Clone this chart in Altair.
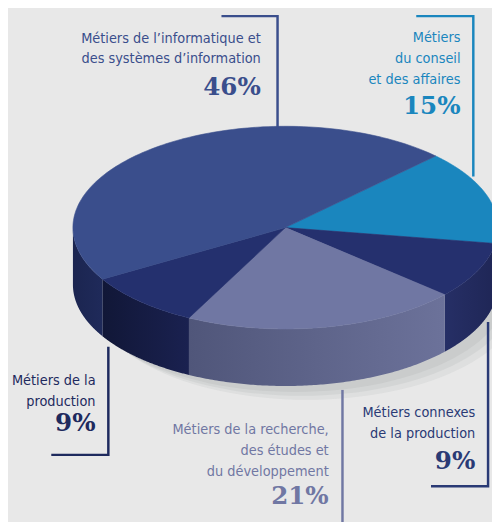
import math
import altair as alt
import pandas as pd

# ---- data ----
categories = [
    "Métiers du conseil et des affaires",
    "Métiers connexes de la production",
    "Métiers de la recherche, des études et du développement",
    "Métiers de la production",
    "Métiers de l'informatique et des systèmes d'information",
]
shares = [15, 9, 21, 9, 46]
top_colors = ["#1A86BE", "#25306E", "#7077A3", "#24306E", "#3A4E8C"]
side_dark = ["#156A96", "#262F66", "#50567A", "#111737", "#1B2550"]
side_light = ["#12628C", "#1F2656", "#6C729A", "#1A2150", "#1F2A5A"]

# ---- geometry of the 3D pie (layout) ----
CX, CY, RX, RY, DEPTH = 290.0, 227.0, 216.0, 103.0, 58.0
START = 45.0  # degrees, math angle; slices go clockwise
N = 120


def pt(theta, dy=0.0):
    t = math.radians(theta)
    return CX + RX * math.cos(t), CY - RY * math.sin(t) + dy


top_rows, side_polys = [], []
total = float(sum(shares))
a0 = START
for i, (cat, s) in enumerate(zip(categories, shares)):
    a1 = a0 - 360.0 * s / total
    pts = [(CX, CY)] + [pt(a0 + (a1 - a0) * k / N) for k in range(N + 1)]
    for j, (x, y) in enumerate(pts):
        top_rows.append({"slice": i, "cat": cat, "col": top_colors[i], "o": j, "x": x, "y": y})
    for kk in range(-2, 2):
        lo = max(a1, -180.0 - 360.0 * kk)
        hi = min(a0, -360.0 * kk)
        if lo < hi:
            edge = [hi + (lo - hi) * k / N for k in range(N + 1)]
            poly = [pt(t) for t in edge] + [pt(t, DEPTH) for t in reversed(edge)]
            side_polys.append((i, pd.DataFrame([{"o": j, "x": x, "y": y} for j, (x, y) in enumerate(poly)])))
    a0 = a1

top_df = pd.DataFrame(top_rows)

W, H = 492, 514
xs = alt.Scale(domain=[8, 8 + W])
ys = alt.Scale(domain=[8 + H, 8])
X = alt.X("x:Q", scale=xs, axis=None)
Y = alt.Y("y:Q", scale=ys, axis=None)

# soft shadow under the pie
layers = []
for dx, dy, op in [(22, 14, 0.25), (16, 10, 0.35), (10, 6, 0.45)]:
    srows = []
    for k in range(N + 1):
        x, y = pt(360.0 * k / N, DEPTH + dy)
        srows.append({"o": k, "x": x + dx, "y": y})
    layers.append(alt.Chart(pd.DataFrame(srows)).mark_line(
        interpolate="linear-closed", filled=True, fill="#BFC2C2", strokeWidth=0, opacity=op
    ).encode(x=X, y=Y, order="o:Q"))

for i, df in side_polys:
    grad = alt.Gradient(
        gradient="linear",
        stops=[alt.GradientStop(color=side_dark[i], offset=0), alt.GradientStop(color=side_light[i], offset=1)],
        x1=0, x2=1, y1=0, y2=0,
    )
    layers.append(alt.Chart(df).mark_line(
        interpolate="linear-closed", filled=True, fill=grad, strokeWidth=0
    ).encode(x=X, y=Y, order="o:Q"))

layers.append(alt.Chart(top_df).mark_line(interpolate="linear-closed", strokeWidth=0.6, filled=True).encode(
    x=X, y=Y, order="o:Q", detail="slice:N",
    fill=alt.Fill("col:N", scale=None),
    stroke=alt.Stroke("col:N", scale=None),
))


def line(pts, color, width=2.5):
    df = pd.DataFrame([{"o": j, "x": x, "y": y} for j, (x, y) in enumerate(pts)])
    return alt.Chart(df).mark_line(color=color, strokeWidth=width).encode(x=X, y=Y, order="o:Q")


c_info, c_cons, c_prod, c_rech, c_conn = "#3A4E8C", "#1A86BE", "#1E2A5E", "#7077A3", "#2A3A75"
layers += [
    line([(225, 12), (282, 12), (282, 126)], c_info),
    line([(423, 12), (481, 12), (481, 175)], c_cons),
    line([(110, 348), (110, 458), (52, 458)], c_prod),
    line([(348, 392), (348, 530)], c_rech),
    line([(496, 323), (496, 490), (438, 490)], c_conn),
]

SANS = "'Liberation Sans Narrow', 'Arial Narrow', 'DejaVu Sans Condensed', 'Liberation Sans', sans-serif"
SERIF = "'DejaVu Serif', serif"


def text(lines_, xr, y_first, color, pct, y_pct, step=21, size=14.6):
    out = []
    for k, t in enumerate(lines_):
        out.append(alt.Chart(pd.DataFrame({"t": [t]})).mark_text(
            align="right", baseline="alphabetic", font=SANS, fontSize=size, color=color
        ).encode(x=alt.value(xr - 8), y=alt.value(y_first + k * step - 8), text="t:N"))
    out.append(alt.Chart(pd.DataFrame({"t": [pct]})).mark_text(
        align="right", baseline="alphabetic", font=SERIF, fontSize=25, fontWeight="bold", color=color
    ).encode(x=alt.value(xr - 8), y=alt.value(y_pct - 8), text="t:N"))
    return out


layers += text(["Métiers de l’informatique et", "des systèmes d’information"], 265, 39, c_info, "46%", 92)
layers += text(["Métiers", "du conseil", "et des affaires"], 468, 38, c_cons, "15%", 112, step=21.5)
layers += text(["Métiers de la", "production"], 97, 387, c_prod, "9%", 434)
layers += text(["Métiers de la recherche,", "des études et", "du développement"], 334, 437, c_rech, "21%", 508, step=21)
layers += text(["Métiers connexes", "de la production"], 483, 420, c_conn, "9%", 472)

chart = alt.layer(*layers).properties(
    width=W, height=H, background="#E8E8E8", padding=0, autosize="none"
).configure_view(stroke=None)

chart.save("out.html", embed_options={"renderer": "svg", "actions": False})
